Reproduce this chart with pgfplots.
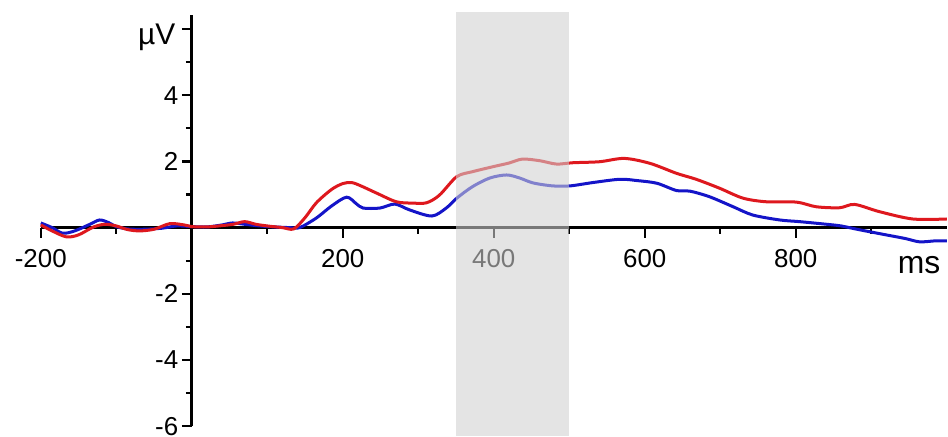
\documentclass[border=0pt]{standalone}
\usepackage{pgfplots}
\pgfplotsset{compat=1.18}
\usepackage{fontspec}
\setmainfont{Liberation Sans}
\definecolor{ered}{RGB}{222,24,30}
\definecolor{eblue}{RGB}{20,20,200}
\definecolor{boxgray}{RGB}{208,208,208}

\begin{document}
\begin{tikzpicture}
\begin{axis}[
  set layers,
  x=0.755bp, y=33.1bp,
  xmin=-200, xmax=1000, ymin=-6, ymax=6.42,
  axis lines=middle,
  axis line style={-, line width=2.8bp, black},
  clip=false,
  tick align=outside,
  xtick={-200,200,400,600,800},
  minor xtick={-100,100,300,500,700,900},
  ytick={-6,-4,-2,2,4,6},
  yticklabels={-6,-4,-2,2,4,{}},
  minor ytick={-5,-3,-1,1,3,5},
  major tick length=10bp, minor tick length=6bp,
  tick style={line width=2.4bp, black},
  ticklabel style={font=\fontsize{26}{30}\selectfont},
  xticklabel style={yshift=-8bp},
  /pgf/number format/assume math mode=true,
]
\addplot[eblue, line width=3bp, smooth, tension=0.5] coordinates {
(-200,0.14) (-185,0.0) (-171,-0.17) (-155,-0.1) (-135,0.1) (-122,0.23) (-110,0.15)
(-100,0.03) (-85,-0.04) (-65,-0.05) (-40,-0.02) (-20,0.05) (0,0.03) (20,0.02)
(40,0.08) (54,0.14) (70,0.1) (90,0.05) (110,0.02) (130,0.0) (143,0.0) (165,0.29)
(185,0.65) (205,0.92) (218,0.72) (227,0.59) (249,0.59) (269,0.71) (289,0.53)
(318,0.35) (337,0.59) (351,0.89) (372,1.24) (395,1.5) (417,1.59) (434,1.5)
(452,1.35) (478,1.26) (501,1.26) (531,1.36) (567,1.46) (590,1.42) (616,1.34)
(642,1.12) (660,1.10) (686,0.93) (717,0.63) (743,0.38) (779,0.23) (805,0.18)
(841,0.10) (860,0.05) (881,-0.05) (915,-0.2) (945,-0.33) (964,-0.43) (985,-0.40) (1000,-0.40)
};
\addplot[ered, line width=3bp, smooth, tension=0.5] coordinates {
(-200,0.08) (-185,-0.1) (-166,-0.28) (-150,-0.22) (-130,0.02) (-115,0.1) (-100,0.05)
(-85,-0.06) (-69,-0.1) (-50,-0.05) (-29,0.12) (-10,0.08) (0,0.03) (20,0.02) (40,0.06)
(55,0.1) (70,0.18) (85,0.1) (100,0.05) (120,0.0) (135,-0.04) (150,0.3) (165,0.75)
(185,1.15) (200,1.33) (212,1.36) (225,1.25) (245,1.04) (271,0.78) (293,0.74)
(311,0.75) (328,0.98) (351,1.54) (372,1.69) (399,1.84) (420,1.95) (438,2.07)
(461,2.02) (483,1.92) (505,1.96) (540,1.99) (573,2.09) (607,1.94) (642,1.64)
(668,1.46) (699,1.19) (730,0.89) (761,0.78) (801,0.77) (827,0.63) (858,0.60)
(878,0.70) (911,0.48) (955,0.26) (1000,0.26)
};
\addplot[draw=none, fill=boxgray, fill opacity=0.58, forget plot]
  coordinates {(350,-6.3) (500,-6.3) (500,6.5) (350,6.5)} -- cycle;
\node[anchor=base east, font=\fontsize{32}{36}\selectfont, xshift=-3bp, yshift=-45.6bp] at (axis cs:1000,0) {ms};
\node[anchor=base east, font=\fontsize{30}{34}\selectfont, xshift=-13bp, yshift=-16bp] at (axis cs:0,6) {µV};
\coordinate (bbA) at (axis cs:-254,6.876);
\coordinate (bbB) at (axis cs:1001.6,-6.296);
\end{axis}
\pgfresetboundingbox
\path (bbA) rectangle (bbB);
\end{tikzpicture}
\end{document}
